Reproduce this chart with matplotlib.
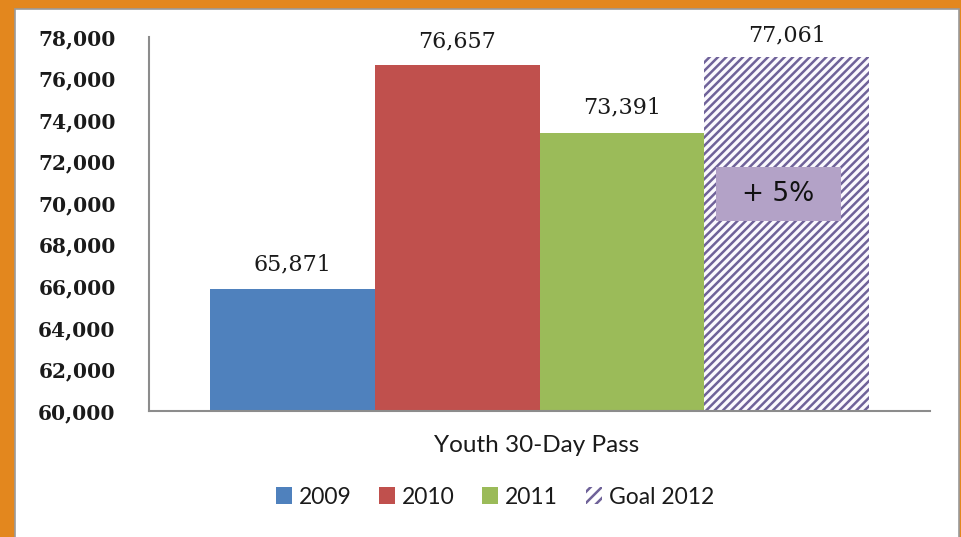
import matplotlib
matplotlib.use("Agg")
import matplotlib.pyplot as plt
from matplotlib.patches import Rectangle, Patch
from matplotlib.ticker import FuncFormatter

# Youth 30-Day Pass sales by year, with the 2012 goal
series = ["2009", "2010", "2011", "Goal 2012"]
values = [65871, 76657, 73391, 77061]
category = "Youth 30-Day Pass"
goal_note = "+ 5%"
y_ticks = [60000, 62000, 64000, 66000, 68000, 70000, 72000, 74000, 76000, 78000]

colors = ["#4F81BD", "#C0504D", "#9BBB59"]
hatch_col = "#6F6299"
orange = "#E3871E"

plt.rcParams["hatch.linewidth"] = 1.8

fig = plt.figure(figsize=(9.61, 5.37), dpi=100, facecolor=orange)
# white chart panel with thin grey rim
fig.patches.append(Rectangle((15 / 961, -0.01), (959 - 15) / 961, 1 - 9 / 537 + 0.01,
                             transform=fig.transFigure, facecolor="white",
                             edgecolor="#9A9A9A", linewidth=1.2, zorder=-5))

ax = fig.add_axes([149 / 961, 1 - 411 / 537, (930 - 149) / 961, (411 - 37) / 537])
ax.set_facecolor("none")
ax.set_zorder(2)

bw = 0.211
offsets = [(-1.5 + i) * bw for i in range(4)]
for i, (s, v) in enumerate(zip(series, values)):
    if i < 3:
        ax.bar(offsets[i], v - 60000, bottom=60000, width=bw, color=colors[i],
               linewidth=0, label=s, zorder=2)
    else:
        ax.bar(offsets[i], v - 60000, bottom=60000, width=bw, facecolor="#FBF9FE",
               edgecolor=hatch_col, hatch="////", linewidth=0, label=s, zorder=2)

label_off = [18, 17, 18, 15]
for x, v, off in zip(offsets, values, label_off):
    ax.annotate(f"{v:,}", (x, v), xytext=(0, off), textcoords="offset points",
                ha="center", va="center", fontsize=16, family="DejaVu Serif",
                color="#1A1A1A", annotation_clip=False)

# "+5%" callout on the goal bar
gx = offsets[3]
ax.add_patch(Rectangle((gx - 0.09, 69144), 0.159, 71743 - 69144,
                       facecolor="#B3A2C7", edgecolor="none", zorder=3))
ax.text(gx - 0.0105, 70443, goal_note, ha="center", va="center", fontsize=19,
        family="DejaVu Sans", color="#111111", zorder=4)

ax.set_xlim(-0.5, 0.5)
ax.set_ylim(60000, 78000)
ax.set_yticks(y_ticks)
ax.yaxis.set_major_formatter(FuncFormatter(lambda v, p: f"{int(v):,}"))
ax.set_xticks([])
ax.tick_params(axis="y", length=0, pad=24)
for lab in ax.get_yticklabels():
    lab.set_family("DejaVu Serif")
    lab.set_fontweight("bold")
    lab.set_fontsize(14.5)
    lab.set_color("#1A1A1A")
for side in ["top", "right"]:
    ax.spines[side].set_visible(False)
for side in ["left", "bottom"]:
    ax.spines[side].set_color("#8C8C8C")
    ax.spines[side].set_linewidth(1.5)

fig.text(537 / 961, 1 - 445 / 537, category, ha="center", va="center",
         fontsize=17.5, family="Lato", color="#1A1A1A")

handles = [Patch(facecolor=c, edgecolor="none") for c in colors]
handles.append(Patch(facecolor="white", edgecolor=hatch_col, hatch="///", linewidth=0))
leg = fig.legend(handles, series, loc="center", bbox_to_anchor=(495 / 961, 1 - 497 / 537),
                 ncol=4, frameon=False, handlelength=0.7, handleheight=0.7,
                 handletextpad=0.3, columnspacing=1.2,
                 prop={"family": "Lato", "size": 16.5})
for t in leg.get_texts():
    t.set_color("#1A1A1A")

fig.savefig("out.png", dpi=100, facecolor=orange)
